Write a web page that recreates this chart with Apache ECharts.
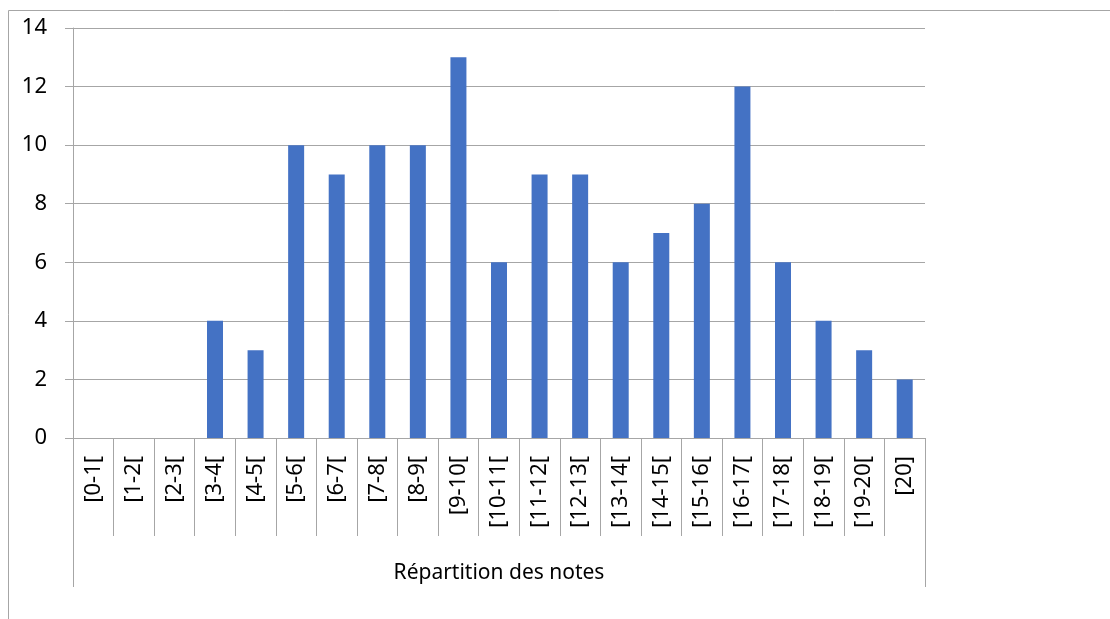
<!DOCTYPE html>
<html><head><meta charset="utf-8">
<script src="https://cdn.jsdelivr.net/npm/echarts@6/dist/echarts.min.js"></script>
<style>html,body{margin:0;padding:0;background:#fff}#c{width:1110px;height:619px}</style>
</head><body><div id="c"></div>
<script>
const categories = ['[0-1[','[1-2[','[2-3[','[3-4[','[4-5[','[5-6[','[6-7[','[7-8[','[8-9[','[9-10[','[10-11[','[11-12[','[12-13[','[13-14[','[14-15[','[15-16[','[16-17[','[17-18[','[18-19[','[19-20[','[20]'];
const values = [0,0,0,4,3,10,9,10,10,13,6,9,9,6,7,8,12,6,4,3,2];
const groupLabel = ['Répartition des notes'];
const FONT = 'Noto Sans';
const GRAY = '#a6a6a6';
const chart = echarts.init(document.getElementById('c'));
chart.setOption({
  animation: false,
  backgroundColor: '#fff',
  textStyle: {fontFamily: FONT},
  graphic: [
    {type: 'line', shape: {x1: 8.5, y1: 10.5, x2: 8.5, y2: 619}, style: {stroke: GRAY, lineWidth: 1}},
    {type: 'line', shape: {x1: 8.5, y1: 10.5, x2: 1110, y2: 10.5}, style: {stroke: GRAY, lineWidth: 1}}
  ],
  grid: {left: 73, right: 185, top: 28, bottom: 181},
  xAxis: [
    {
      type: 'category', data: categories, position: 'bottom',
      axisLine: {show: true, lineStyle: {color: GRAY, width: 1}},
      axisTick: {show: true, interval: 0, length: 98, lineStyle: {color: GRAY}},
      axisLabel: {interval: 0, rotate: 90, margin: 18, color: '#000', fontSize: 22, fontFamily: FONT}
    },
    {
      type: 'category', data: groupLabel, position: 'bottom', gridIndex: 0,
      axisLine: {show: false},
      axisTick: {show: true, interval: 0, length: 149, lineStyle: {color: GRAY}},
      axisLabel: {interval: 0, margin: 125, color: '#000', fontSize: 21, fontFamily: FONT}
    }
  ],
  yAxis: {
    type: 'value', min: 0, max: 14, interval: 2,
    axisLine: {show: true, lineStyle: {color: GRAY}},
    axisTick: {show: true, length: 8, lineStyle: {color: GRAY}},
    splitLine: {show: true, lineStyle: {color: GRAY}},
    axisLabel: {margin: 26, color: '#000', fontSize: 22, fontFamily: FONT}
  },
  series: [{
    type: 'bar', data: values, barWidth: 16, xAxisIndex: 0,
    itemStyle: {color: '#4472C4'}
  }]
});
</script></body></html>
